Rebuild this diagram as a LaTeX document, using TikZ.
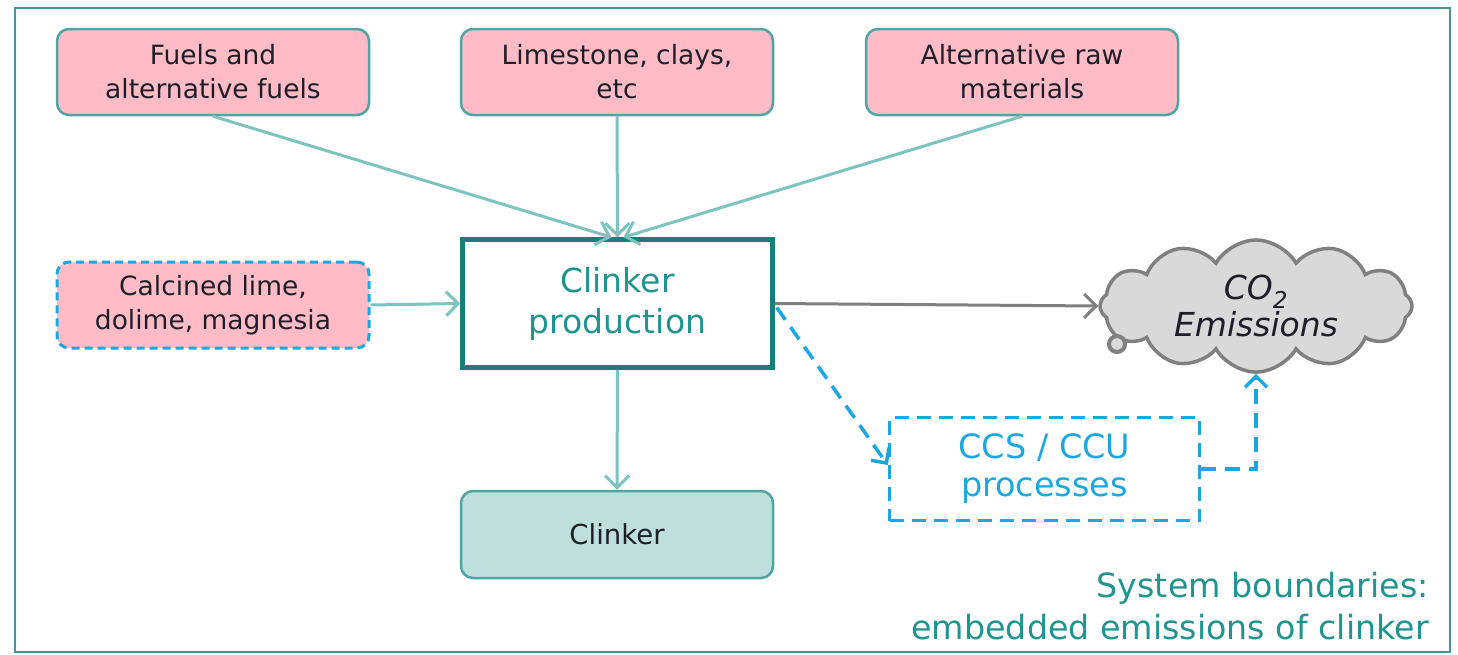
\documentclass[tikz,border=0pt]{standalone}
\usepackage{fontspec}
\setmainfont{DejaVu Sans}
\usetikzlibrary{arrows.meta,shapes.symbols,calc}
\definecolor{pinkfill}{HTML}{FFBCC6}
\definecolor{tealborder}{HTML}{4FA5A2}
\definecolor{tealdark}{HTML}{167F7A}
\definecolor{tealarrow}{HTML}{7CC4BF}
\definecolor{tealtext}{HTML}{1F9490}
\definecolor{bluedash}{HTML}{1BA8E0}
\definecolor{clinkerfill}{HTML}{BEDFDC}
\definecolor{cloudfill}{HTML}{D9D9D9}
\definecolor{cloudline}{HTML}{808080}
\definecolor{darktext}{HTML}{1E1E2A}
\begin{document}
\begin{tikzpicture}[x=1pt,y=-1pt,
  inbox/.style={draw=tealborder, line width=2.5pt, fill=pinkfill, rounded corners=12pt,
    minimum width=312pt, minimum height=86pt, inner sep=0pt, align=center,
    font=\fontsize{26.5}{34}\selectfont, text=darktext},
  flow/.style={draw=tealarrow, line width=3pt, -{Straight Barb[length=12pt,width=24pt,line width=3pt]}},
  bluearrow/.style={draw=bluedash, line width=3.5pt, dash pattern=on 15pt off 9pt, -{Straight Barb[length=11pt,width=22pt,line width=3.5pt]}},
]
\useasboundingbox (0,0) rectangle (1458,654);
\draw[tealborder!90!black, line width=2pt] (15,8) rectangle (1450,652);

\node[inbox] (fuels) at (213,72) {Fuels and\\alternative fuels};
\node[inbox] (lime) at (617,72) {Limestone, clays,\\etc};
\node[inbox] (alt) at (1022,72) {Alternative raw\\materials};
\node[inbox, draw=bluedash, dash pattern=on 8pt off 5pt, line width=3pt] (calc) at (213,305) {Calcined lime,\\dolime, magnesia};

\node[draw=tealdark, line width=4.5pt, fill=white, minimum width=310pt, minimum height=128pt,
  inner sep=0pt, align=center, text=tealtext, font=\fontsize{33}{41}\selectfont] (prod) at (617.5,303.5) {Clinker\\production};

\node[draw=tealborder, line width=2.5pt, fill=clinkerfill, rounded corners=12pt,
  minimum width=312pt, minimum height=87pt, inner sep=0pt, text=darktext,
  font=\fontsize{27.5}{33}\selectfont] (clk) at (617,534.5) {Clinker};

\node[draw=bluedash, line width=3.5pt, dash pattern=on 14pt off 8pt, minimum width=310pt, minimum height=103pt,
  inner sep=0pt, align=center, text=bluedash, font=\fontsize{33.5}{38}\selectfont] (ccs) at (1044.5,469) {CCS / CCU\\processes};

\node[cloud, cloud puffs=12, cloud puff arc=120, aspect=2.3, draw=cloudline, line width=3.5pt, fill=cloudfill,
  minimum width=312pt, minimum height=130pt, inner sep=0pt, align=center, text=darktext,
  font=\fontsize{33}{37}\selectfont\itshape] (cloud) at (1256,306) {CO\textsubscript{2}\\Emissions};
\node[draw=cloudline, line width=4pt, fill=cloudfill, circle, minimum size=16pt, inner sep=0pt] (bub) at (1117,344) {};

\node[anchor=east, align=right, text=tealtext, font=\fontsize{33.3}{42}\selectfont, inner sep=0pt] (sys) at (1429,606) {System boundaries:\\embedded emissions of clinker};

\draw[flow] (fuels.south) -- ($(prod.north)+(-6,0)$);
\draw[flow] (lime.south) -- (prod.north);
\draw[flow] (alt.south) -- ($(prod.north)+(6,0)$);
\draw[flow] (calc.east) -- (prod.west);
\draw[flow] (prod.south) -- (clk.north);
\draw[draw=cloudline, line width=3pt, -{Straight Barb[length=12pt,width=24pt,line width=3pt]}] (prod.east) -- (cloud.west);
\draw[bluearrow] ($(prod.east)+(2,4)$) -- ($(ccs.west)+(0,-4)$);
\draw[bluearrow] (ccs.east) -| (cloud.south);
\end{tikzpicture}
\end{document}
